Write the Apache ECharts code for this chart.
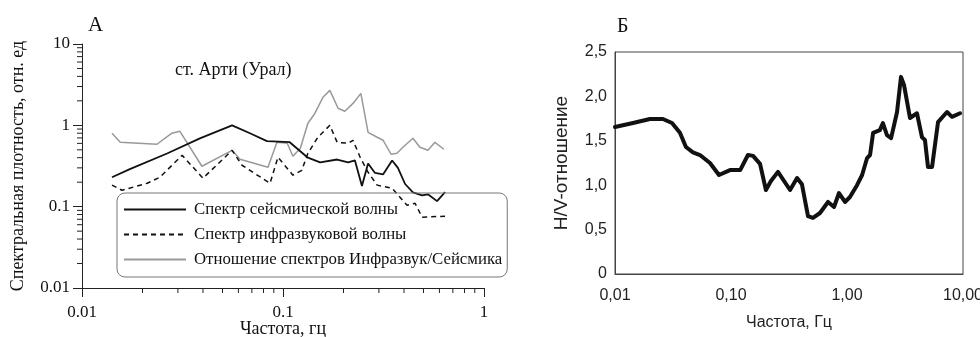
<!DOCTYPE html>
<html>
<head>
<meta charset="utf-8">
<script src="https://cdn.jsdelivr.net/npm/echarts@6/dist/echarts.min.js"></script>
<style>
  html, body { margin: 0; padding: 0; background: #fff; }
  #chart { width: 980px; height: 337px; }
</style>
</head>
<body>
<div id="chart"></div>
<script>
// А: спектры (ст. Арти)
var seisFreq = [0.0141, 0.0173, 0.0265, 0.0386, 0.0558, 0.0685, 0.0832, 0.108, 0.133, 0.153, 0.186, 0.211, 0.228, 0.247, 0.265, 0.287, 0.315, 0.349, 0.373, 0.405, 0.443, 0.492, 0.526, 0.584, 0.64];
var seisVal  = [0.23, 0.29, 0.45, 0.69, 1.0, 0.80, 0.64, 0.62, 0.40, 0.35, 0.38, 0.35, 0.37, 0.18, 0.34, 0.26, 0.25, 0.37, 0.30, 0.19, 0.15, 0.138, 0.142, 0.117, 0.151];

var infraFreq = [0.0141, 0.0158, 0.0211, 0.0244, 0.0315, 0.040, 0.0558, 0.0625, 0.0862, 0.0944, 0.112, 0.124, 0.133, 0.149, 0.171, 0.186, 0.211, 0.223, 0.242, 0.265, 0.294, 0.349, 0.414, 0.454, 0.492, 0.64];
var infraVal  = [0.184, 0.159, 0.194, 0.23, 0.428, 0.224, 0.493, 0.323, 0.194, 0.405, 0.244, 0.28, 0.453, 0.713, 1.0, 0.618, 0.601, 0.655, 0.405, 0.265, 0.184, 0.169, 0.104, 0.110, 0.0743, 0.0764];

var ratioFreq = [0.0141, 0.0155, 0.0236, 0.028, 0.0307, 0.0395, 0.0558, 0.0611, 0.0842, 0.0933, 0.105, 0.112, 0.122, 0.133, 0.144, 0.158, 0.171, 0.188, 0.203, 0.223, 0.244, 0.265, 0.294, 0.315, 0.345, 0.369, 0.395, 0.443, 0.48, 0.526, 0.57, 0.632];
var ratioVal  = [0.80, 0.62, 0.585, 0.80, 0.844, 0.314, 0.493, 0.383, 0.305, 0.618, 0.601, 0.417, 0.522, 1.06, 1.40, 2.21, 2.69, 1.62, 1.49, 1.86, 2.47, 0.82, 0.713, 0.655, 0.441, 0.453, 0.537, 0.693, 0.537, 0.493, 0.618, 0.508];

var legendNames = ['Спектр сейсмической волны', 'Спектр инфразвуковой волны', 'Отношение спектров Инфразвук/Сейсмика'];

// минорные деления логарифмических осей графика А
var minorX = [0.02, 0.03, 0.04, 0.05, 0.06, 0.07, 0.08, 0.09, 0.2, 0.3, 0.4, 0.5, 0.6, 0.7, 0.8, 0.9];
var minorY = [0.02, 0.03, 0.04, 0.05, 0.06, 0.07, 0.08, 0.09, 0.2, 0.3, 0.4, 0.5, 0.6, 0.7, 0.8, 0.9, 2, 3, 4, 5, 6, 7, 8, 9];

// Б: H/V-отношение
var hvFreq = [0.01, 0.0143, 0.020, 0.0259, 0.031, 0.0363, 0.0409, 0.047, 0.054, 0.0659, 0.0788, 0.098, 0.120, 0.140, 0.155, 0.178, 0.200, 0.221, 0.254, 0.323, 0.371, 0.409, 0.461, 0.509, 0.585, 0.686, 0.773, 0.853, 0.961, 1.06, 1.22, 1.35, 1.49, 1.58, 1.68, 1.92, 2.04, 2.21, 2.40, 2.70, 2.92, 3.10, 3.49, 4.01, 4.43, 4.70, 4.99, 5.41, 6.09, 7.28, 8.04, 9.42];
var hvVal  = [1.655, 1.70, 1.745, 1.745, 1.70, 1.59, 1.43, 1.37, 1.34, 1.25, 1.115, 1.17, 1.17, 1.34, 1.33, 1.24, 0.946, 1.047, 1.15, 0.946, 1.08, 1.01, 0.653, 0.631, 0.687, 0.811, 0.755, 0.912, 0.811, 0.867, 1.00, 1.115, 1.306, 1.34, 1.59, 1.62, 1.70, 1.565, 1.53, 1.824, 2.22, 2.13, 1.757, 1.81, 1.54, 1.51, 1.205, 1.205, 1.71, 1.824, 1.77, 1.81];

var serif = '"Liberation Serif", "DejaVu Serif", serif';
var sans = '"Liberation Sans", Arial, sans-serif';

function pairs(xs, ys) {
    return xs.map(function (x, i) { return [x, ys[i]]; });
}

var chart = echarts.init(document.getElementById('chart'));

var option = {
    backgroundColor: '#ffffff',
    animation: false,
    title: [
        { text: 'А', left: 88, top: 15, padding: 0, textStyle: { fontFamily: serif, fontSize: 21, fontWeight: 'normal', color: '#111' } },
        { text: 'Б', left: 617, top: 17, padding: 0, textStyle: { fontFamily: serif, fontSize: 20, fontWeight: 'normal', color: '#111' } },
        { text: 'ст. Арти (Урал)', left: 175, top: 61, padding: 0, textStyle: { fontFamily: serif, fontSize: 18, fontWeight: 'normal', color: '#111' } }
    ],
    legend: {
        data: legendNames,
        orient: 'vertical',
        left: 117,
        top: 193,
        padding: [8, 5, 9, 6],
        itemWidth: 62,
        itemHeight: 14,
        itemGap: 8,
        borderColor: '#777',
        borderWidth: 1,
        borderRadius: 8,
        itemStyle: { opacity: 0 },
        textStyle: { fontFamily: serif, fontSize: 16.8, color: '#111', padding: [0, 0, 0, 3] }
    },
    grid: [
        { left: 82, right: 496, top: 44, bottom: 49, outerBoundsMode: 'none' },
        { left: 615, right: 17, top: 52, bottom: 63, outerBoundsMode: 'none', show: true, borderColor: '#444', borderWidth: 1 }
    ],
    xAxis: [
        {
            gridIndex: 0, type: 'log', logBase: 10, min: 0.01, max: 1,
            name: 'Частота, гц', nameLocation: 'middle', nameGap: 32, nameMoveOverlap: false,
            nameTextStyle: { fontFamily: serif, fontSize: 18, color: '#111' },
            axisLine: { lineStyle: { color: '#222', width: 1 } },
            axisTick: { length: 9, lineStyle: { color: '#222' } },
            axisLabel: {
                fontFamily: serif, fontSize: 17, color: '#111', margin: 16,
                formatter: function (v) { return String(+v.toPrecision(1)); }
            },
            splitLine: { show: false }
        },
        {
            gridIndex: 1, type: 'log', logBase: 10, min: 0.01, max: 10,
            name: 'Частота, Гц', nameLocation: 'middle', nameGap: 41, nameMoveOverlap: false,
            nameTextStyle: { fontFamily: sans, fontSize: 16, color: '#222' },
            axisLine: { lineStyle: { color: '#444' } },
            axisTick: { show: false },
            axisLabel: {
                fontFamily: sans, fontSize: 16, color: '#222', margin: 14,
                formatter: function (v) { return (+v).toFixed(2).replace('.', ','); }
            },
            splitLine: { show: false }
        }
    ],
    yAxis: [
        {
            gridIndex: 0, type: 'log', logBase: 10, min: 0.01, max: 10,
            name: 'Спектральная плотность, отн. ед', nameLocation: 'middle', nameGap: 55, nameMoveOverlap: false,
            nameTextStyle: { fontFamily: serif, fontSize: 18, color: '#111' },
            axisLine: { lineStyle: { color: '#222', width: 1 } },
            axisTick: { length: 9, lineStyle: { color: '#222' } },
            axisLabel: {
                fontFamily: serif, fontSize: 17, color: '#111', margin: 12,
                formatter: function (v) { return String(+v.toPrecision(1)); }
            },
            splitLine: { show: false }
        },
        {
            gridIndex: 1, type: 'value', min: 0, max: 2.5, interval: 0.5,
            name: 'H/V-отношение', nameLocation: 'middle', nameGap: 44, nameMoveOverlap: false,
            nameTextStyle: { fontFamily: sans, fontSize: 19, color: '#222' },
            axisLine: { show: true, lineStyle: { color: '#444' } },
            axisTick: { show: false },
            axisLabel: {
                fontFamily: sans, fontSize: 16, color: '#222', margin: 8,
                formatter: function (v) { return v === 0 ? '0' : v.toFixed(1).replace('.', ','); }
            },
            splitLine: { show: false }
        }
    ],
    series: [
        {
            name: legendNames[2], type: 'line', xAxisIndex: 0, yAxisIndex: 0,
            data: pairs(ratioFreq, ratioVal), symbol: 'none',
            lineStyle: { color: '#999', width: 1.5 }, itemStyle: { color: '#999' }
        },
        {
            name: legendNames[1], type: 'line', xAxisIndex: 0, yAxisIndex: 0,
            data: pairs(infraFreq, infraVal), symbol: 'none',
            lineStyle: { color: '#111', width: 1.5, type: [5, 4] }, itemStyle: { color: '#111' }
        },
        {
            name: legendNames[0], type: 'line', xAxisIndex: 0, yAxisIndex: 0,
            data: pairs(seisFreq, seisVal), symbol: 'none',
            lineStyle: { color: '#111', width: 1.8 }, itemStyle: { color: '#111' }
        },
        {
            type: 'custom', xAxisIndex: 0, yAxisIndex: 0, silent: true, clip: false,
            data: minorX.map(function (v) { return [v, 0.01]; }),
            renderItem: function (params, api) {
                var p = api.coord([api.value(0), api.value(1)]);
                return { type: 'line', shape: { x1: p[0], y1: p[1], x2: p[0], y2: p[1] + 5 }, style: { stroke: '#222', lineWidth: 1 } };
            }
        },
        {
            type: 'custom', xAxisIndex: 0, yAxisIndex: 0, silent: true, clip: false,
            data: minorY.map(function (v) { return [0.01, v]; }),
            renderItem: function (params, api) {
                var p = api.coord([api.value(0), api.value(1)]);
                return { type: 'line', shape: { x1: p[0] - 5, y1: p[1], x2: p[0], y2: p[1] }, style: { stroke: '#222', lineWidth: 1 } };
            }
        },
        {
            type: 'line', xAxisIndex: 1, yAxisIndex: 1,
            data: pairs(hvFreq, hvVal), symbol: 'none',
            lineStyle: { color: '#111', width: 4, cap: 'round', join: 'round' }
        }
    ]
};

chart.setOption(option);
</script>
</body>
</html>
